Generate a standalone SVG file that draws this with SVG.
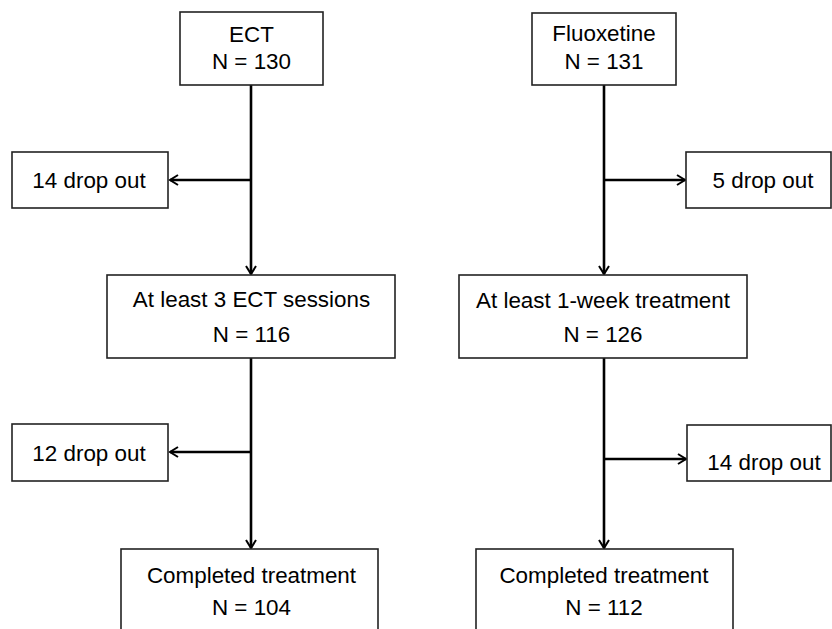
<svg xmlns="http://www.w3.org/2000/svg" width="832" height="629" viewBox="0 0 832 629">
<style>
.box{fill:#fff;stroke:#222;stroke-width:1.6}
.t{font-family:"Liberation Sans",Arial,sans-serif;font-size:22.4px;fill:#000;text-anchor:middle}
.c{stroke:#000;stroke-width:2.6;fill:none}
</style>
<defs>
<marker id="ah" markerUnits="userSpaceOnUse" markerWidth="14" markerHeight="14" refX="10" refY="6" orient="auto">
<path d="M2,1 L10,6 L2,11" fill="none" stroke="#000" stroke-width="2"/>
</marker>
</defs>
<rect width="832" height="629" fill="#fff"/>
<g id="connectors">
<line class="c" x1="251" y1="85" x2="251" y2="274" marker-end="url(#ah)"/>
<line class="c" x1="251" y1="180" x2="170" y2="180" marker-end="url(#ah)"/>
<line class="c" x1="251" y1="358" x2="251" y2="548" marker-end="url(#ah)"/>
<line class="c" x1="251" y1="452" x2="170" y2="452" marker-end="url(#ah)"/>
<line class="c" x1="604" y1="85" x2="604" y2="274" marker-end="url(#ah)"/>
<line class="c" x1="604" y1="180" x2="685" y2="180" marker-end="url(#ah)"/>
<line class="c" x1="604" y1="358" x2="604" y2="548" marker-end="url(#ah)"/>
<line class="c" x1="604" y1="459" x2="686" y2="459" marker-end="url(#ah)"/>
</g>
<g id="ect">
<rect class="box" x="180" y="12" width="143" height="73"/>
<text class="t" x="251.5" y="42">ECT</text>
<text class="t" x="251.5" y="69">N = 130</text>
</g>
<g id="ect-drop1">
<rect class="box" x="12" y="152" width="156" height="56"/>
<text class="t" x="89" y="188">14 drop out</text>
</g>
<g id="ect-3sessions">
<rect class="box" x="107" y="275" width="288" height="83"/>
<text class="t" x="251.5" y="307">At least 3 ECT sessions</text>
<text class="t" x="251.5" y="342">N = 116</text>
</g>
<g id="ect-drop2">
<rect class="box" x="12" y="424" width="156" height="57"/>
<text class="t" x="89" y="461">12 drop out</text>
</g>
<g id="ect-completed">
<rect class="box" x="121" y="549" width="257" height="90"/>
<text class="t" x="251.5" y="583">Completed treatment</text>
<text class="t" x="251.5" y="615">N = 104</text>
</g>
<g id="fluoxetine">
<rect class="box" x="532" y="13" width="144" height="72"/>
<text class="t" x="604" y="41">Fluoxetine</text>
<text class="t" x="604" y="69">N = 131</text>
</g>
<g id="flx-drop1">
<rect class="box" x="686" y="152" width="145" height="56"/>
<text class="t" x="763" y="188">5 drop out</text>
</g>
<g id="flx-1week">
<rect class="box" x="459" y="275" width="288" height="83"/>
<text class="t" x="603" y="308">At least 1-week treatment</text>
<text class="t" x="603" y="342">N = 126</text>
</g>
<g id="flx-drop2">
<rect class="box" x="687" y="425" width="144" height="56"/>
<text class="t" x="764" y="470">14 drop out</text>
</g>
<g id="flx-completed">
<rect class="box" x="476" y="549" width="257" height="90"/>
<text class="t" x="604" y="583">Completed treatment</text>
<text class="t" x="604" y="615">N = 112</text>
</g>
</svg>
